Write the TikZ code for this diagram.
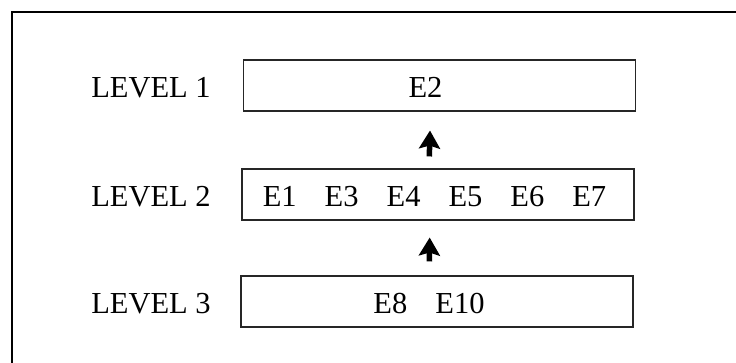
\documentclass[tikz,border=0pt]{standalone}
\usepackage{fontspec}
\setmainfont{Liberation Serif}
\usetikzlibrary{arrows.meta}
\begin{document}
\begin{tikzpicture}[x=1pt,y=-1pt,
  every node/.style={font=\fontsize{30.5}{36}\selectfont, text height=24pt, text depth=0pt, inner sep=0pt},
  levelbox/.style={draw=black!85, line width=1.1pt, minimum width=392pt, minimum height=51pt},
  levellabel/.style={},
  uparrow/.style={line width=5.5pt, -{Stealth[width=21pt,length=18pt,inset=3pt]}}]
\useasboundingbox (0,0) rectangle (736,363);
\draw[line width=1.2pt] (12,363) -- (12,12) -- (737,12);
\node[levelbox] (b1) at (439.5,85.5) {E2\kern28pt};
\node[levelbox] (b2) at (438,194.5) {E1\hspace{28pt}E3\hspace{28pt}E4\hspace{28pt}E5\hspace{28pt}E6\hspace{28pt}E7\kern7pt};
\node[levelbox] (b3) at (437,301.5) {E8\hspace{28pt}E10\kern16pt};
\node[levellabel] (l1) at (151,85.5) {LEVEL 1};
\node[levellabel] (l2) at (151,194.5) {LEVEL 2};
\node[levellabel] (l3) at (151,301.5) {LEVEL 3};
\draw[uparrow, shorten <=12pt, shorten >=19pt] ([xshift=-9pt]b2.north) -- ([xshift=-9pt]b1.south);
\draw[uparrow, shorten <=14pt, shorten >=17pt] ([xshift=-8pt]b3.north) -- ([xshift=-8pt]b2.south);
\end{tikzpicture}
\end{document}
